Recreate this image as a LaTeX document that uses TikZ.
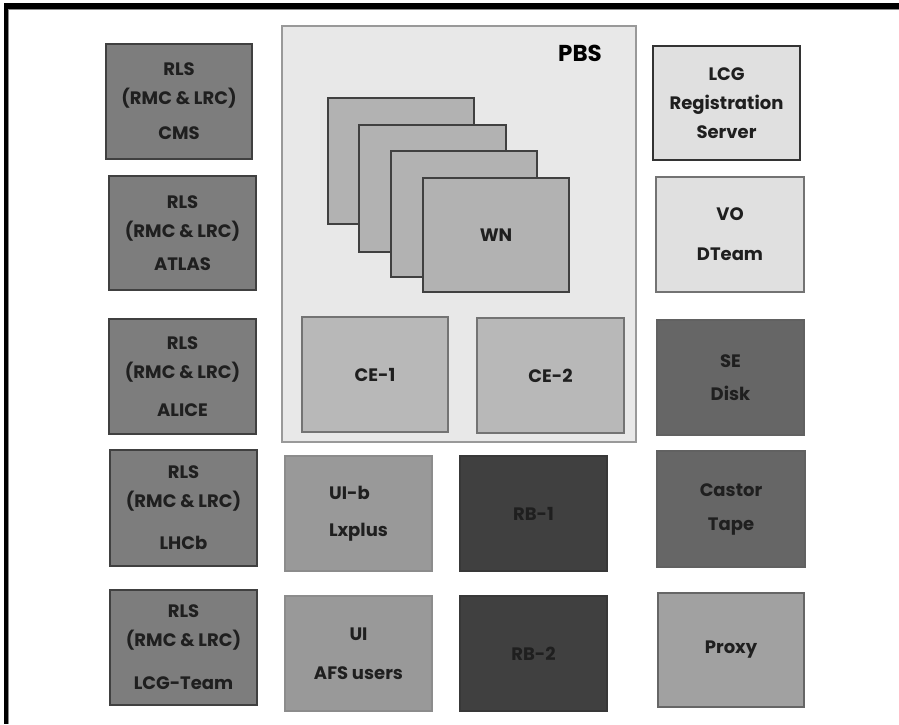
\documentclass[tikz,border=0pt]{standalone}
\usepackage{fontspec}
\setmainfont{Poppins}
\begin{document}
\begin{tikzpicture}[x=1pt,y=-1pt,
  box/.style={draw=#1, line width=1.2pt, align=center, inner sep=0pt,
    font=\fontsize{18}{29}\selectfont\bfseries, text=black!88},
  rlsbox/.style={box=black!75, fill=black!51},
  wnbox/.style={box=black!75, fill=black!30},
  cebox/.style={box=black!55, fill=black!28, line width=1.6pt},
  lightbox/.style={box=black!80, fill=black!12},
  vobox/.style={box=black!55, fill=black!12},
  sebox/.style={box=black!62, fill=black!60},
  rbbox/.style={box=black!78, fill=black!75},
  uibox/.style={box=black!45, fill=black!40},
  proxybox/.style={box=black!60, fill=black!37},
  pbsbox/.style={draw=black!40, fill=black!9, line width=1.6pt, inner sep=0pt}
]
\useasboundingbox (0,0) rectangle (899,724);
\fill[white] (0,0) rectangle (899,724);
% frame
\fill[black] (4,3) rectangle (899,9);
\fill[black] (4,3) rectangle (8,724);
\draw[black!45, line width=0.8pt] (8,9.6) -- (899,9.6);
\draw[black!45, line width=0.8pt] (8.6,9) -- (8.6,724);

% RLS column
\node[rlsbox, minimum width=146pt, minimum height=115pt] (cms) at (179,101.5) {RLS\\(RMC \& LRC)\\[6pt]CMS};
\node[rlsbox, minimum width=147pt, minimum height=114pt] (atlas) at (182.5,233) {RLS\\(RMC \& LRC)\\[4pt]ATLAS};
\node[rlsbox, minimum width=147pt, minimum height=115pt] (alice) at (182.5,376.5) {RLS\\(RMC \& LRC)\\[9pt]ALICE};
\node[rlsbox, minimum width=147pt, minimum height=116pt] (lhcb) at (183.5,508) {RLS\\(RMC \& LRC)\\[13pt]LHCb};
\node[rlsbox, minimum width=147pt, minimum height=115pt] (lcgteam) at (183.5,647.5) {RLS\\(RMC \& LRC)\\[14pt]LCG-Team};

% PBS
\node[pbsbox, minimum width=354pt, minimum height=416pt] (pbs) at (459,234) {};
\node[font=\fontsize{23}{24}\selectfont\bfseries, inner sep=0pt] (pbslabel) at (580,53) {PBS};
\node[wnbox, minimum width=146pt, minimum height=126pt] (wn1) at (401,161) {};
\node[wnbox, minimum width=147pt, minimum height=127pt] (wn2) at (432.5,188.5) {};
\node[wnbox, minimum width=146pt, minimum height=126pt] (wn3) at (464,214) {};
\node[wnbox, minimum width=146pt, minimum height=114pt] (wn4) at (496,235) {WN};
\node[cebox, minimum width=146pt, minimum height=115pt] (ce1) at (375,374.5) {CE-1};
\node[cebox, minimum width=147pt, minimum height=115pt] (ce2) at (550.5,375.5) {CE-2};

% UI and RB
\node[uibox, minimum width=147pt, minimum height=115pt, align=left] (uib) at (358.5,513.5) {UI-b\\[8pt]Lxplus};
\node[uibox, minimum width=147pt, minimum height=115pt] (ui) at (358.5,653.5) {UI\\[10pt]AFS users};
\node[rbbox, minimum width=147pt, minimum height=115pt] (rb1) at (533.5,513.5) {RB-1};
\node[rbbox, minimum width=147pt, minimum height=115pt] (rb2) at (533.5,653.5) {RB-2};

% right column
\node[lightbox, minimum width=147pt, minimum height=114pt] (lcg) at (726.5,103) {LCG\\Registration\\Server};
\node[vobox, minimum width=148pt, minimum height=115pt] (vo) at (730,234.5) {VO\\[11pt]DTeam};
\node[sebox, minimum width=147pt, minimum height=115pt] (se) at (730.5,377.5) {SE\\[4pt]Disk};
\node[sebox, minimum width=148pt, minimum height=116pt] (castor) at (731,509) {Castor\\[5pt]Tape};
\node[proxybox, minimum width=146pt, minimum height=114pt] (proxy) at (731,650) {Proxy};
\end{tikzpicture}
\end{document}
